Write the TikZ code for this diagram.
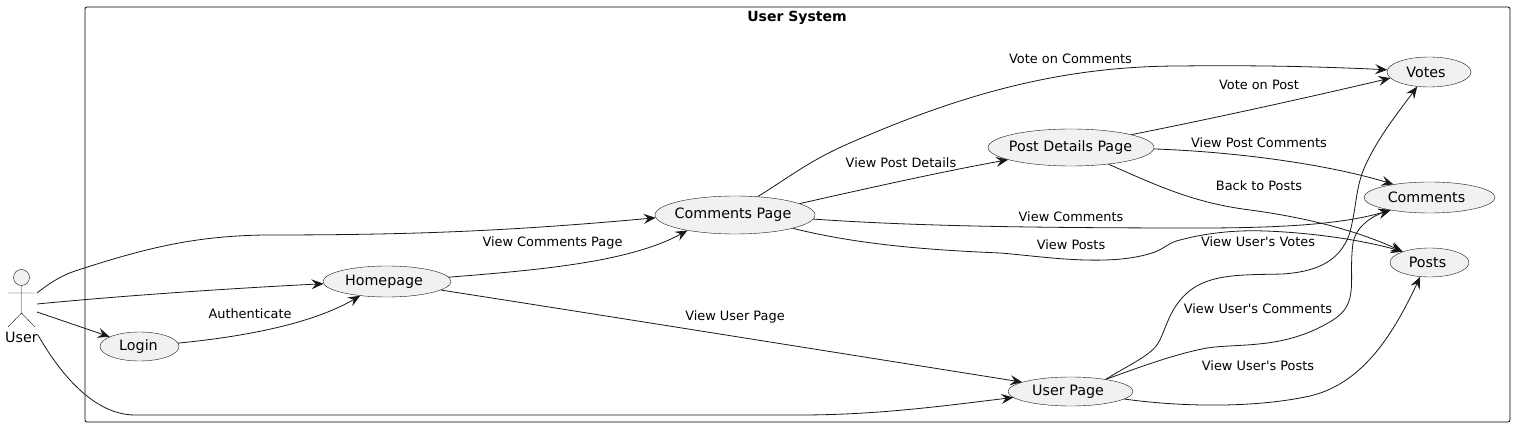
\documentclass[tikz,border=0pt]{standalone}
\usepackage{fontspec}
\setmainfont{DejaVu Sans}
\usetikzlibrary{shapes.geometric,arrows.meta}
\definecolor{ink}{HTML}{181818}
\definecolor{uc}{HTML}{F1F1F1}
\newcommand{\uclabel}[2]{\makebox[0pt]{#2\kern#1pt}}
\tikzset{
  usecase/.style={ellipse,draw=ink,line width=0.4pt,fill=uc,inner sep=0pt,font=\fontsize{14.3}{16}\selectfont,text=black},
  link/.style={draw=ink,line width=0.8pt,-{Stealth[length=12pt,width=10pt,inset=4.5pt]}},
  lbl/.style={font=\fontsize{12.9}{15}\selectfont,text=black,inner sep=0pt},
  stick/.style={draw=ink,line width=0.4pt}
}
\begin{document}
\begin{tikzpicture}[x=1pt,y=-1pt]
\useasboundingbox (0,0) rectangle (1515,427);
\fill[white] (0,0) rectangle (1515,427);
\node[rectangle,draw=black,line width=0.8pt,rounded corners=2pt,minimum width=1425pt,minimum height=415pt,inner sep=0pt] (frame) at (797.5,214.5) {};
\node[lbl,font=\bfseries\fontsize{14}{16}\selectfont] (title) at (797,17.5) {User System};
% actor
\node[circle,draw=ink,line width=0.4pt,fill=uc,minimum size=16pt,inner sep=0pt] (head) at (21.5,277.5) {};
\coordinate (hip) at (21.5,313);
\coordinate (armL) at (8,293);
\coordinate (armR) at (35,293);
\coordinate (legL) at (8,327);
\coordinate (legR) at (35,327);
\draw[stick] (head.south) -- (hip) (armL) -- (armR) (legL) -- (hip) -- (legR);
\node[font=\fontsize{14.3}{16}\selectfont,inner sep=0pt] (user) at (21.5,337) {User};
\coordinate (u1) at (37,293);
\coordinate (u2) at (37,304);
\coordinate (u3) at (37,312);
\coordinate (u4) at (38,335);
% use cases
\node[usecase,minimum width=79pt,minimum height=29pt] (login) at (139.5,346.5) {\uclabel{2}{Login}};
\node[usecase,minimum width=128pt,minimum height=31pt] (home) at (387,281.5) {\uclabel{6}{Homepage}};
\node[usecase,minimum width=160pt,minimum height=38pt] (cp) at (735,215) {\uclabel{4}{Comments Page}};
\node[usecase,minimum width=166pt,minimum height=37pt] (pd) at (1071,147.5) {\uclabel{1}{Post Details Page}};
\node[usecase,minimum width=125pt,minimum height=29pt] (up) at (1070.5,391.5) {\uclabel{5}{User Page}};
\node[usecase,minimum width=84pt,minimum height=30pt] (votes) at (1429,72) {\uclabel{6}{Votes}};
\node[usecase,minimum width=131pt,minimum height=31pt] (comments) at (1429.5,197.5) {\uclabel{6}{Comments}};
\node[usecase,minimum width=79pt,minimum height=29pt] (posts) at (1429.5,262.5) {\uclabel{4}{Posts}};
% connectors
\draw[link] (u1) .. controls (47,285) and (60,276) .. (75,271) .. controls (140,250) and (190,236) .. (265,235) .. controls (400,235) and (500,232) .. (cp.182);
\draw[link] (u2) .. controls (120,296) and (220,289) .. (home.182);
\draw[link] (u3) -- (login.162);
\draw[link] (u4) .. controls (55,365) and (90,415) .. (135,415) -- (800,415) .. controls (880,415) and (950,405) .. (up.186);
\draw[link] (login.5) .. controls (240,337) and (310,325) .. (home.208);
\draw[link] (home.4) .. controls (540,270) and (630,262) .. (cp.198);
\draw[link] (home.-9) .. controls (620,318) and (820,350) .. (up.169);
\draw[link] (cp.10) .. controls (860,190) and (940,172) .. (pd.191);
\draw[link] (cp.39) .. controls (785,180) and (810,160) .. (850,143) .. controls (960,95) and (1060,66) .. (1180,66) .. controls (1260,65) and (1330,67) .. (votes.177);
\draw[link] (pd.12) .. controls (1220,117) and (1310,97) .. (votes.189);
\draw[link] (pd.-1) .. controls (1240,152) and (1330,165) .. (comments.160);
\draw[link] (pd.-24) .. controls (1160,187) and (1195,203) .. (1250,210) .. controls (1310,218) and (1360,232) .. (posts.158);
\draw[link] (cp.-3) .. controls (900,225) and (1000,228) .. (1200,228) .. controls (1300,228) and (1350,222) .. (comments.198);
\draw[link] (cp.-13) .. controls (860,245) and (930,250) .. (1000,253) .. controls (1040,256) and (1110,268) .. (1155,252) .. controls (1165,248) and (1170,242) .. (1180,240) .. controls (1210,232) and (1240,230) .. (1265,231) .. controls (1320,233) and (1370,242) .. (posts.158);
\draw[link] (up.19) .. controls (1125,367) and (1148,357) .. (1157,345) .. controls (1166,331) and (1168,310) .. (1187,293) .. controls (1209,273) and (1245,275) .. (1283,274) .. controls (1310,272) and (1340,265) .. (1350,232) .. controls (1358,200) and (1355,185) .. (1368,160) .. controls (1380,135) and (1400,110) .. (votes.231);
\draw[link] (up.19) .. controls (1140,367) and (1175,354) .. (1207,348) .. controls (1240,343) and (1285,350) .. (1333,320) .. controls (1360,303) and (1348,280) .. (1353,243) .. controls (1356,225) and (1375,215) .. (comments.198);
\draw[link] (up.-8) .. controls (1190,408) and (1260,407) .. (1310,396) .. controls (1365,383) and (1395,330) .. (posts.237);
% labels
\node[lbl] (l1) at (250,314) {Authenticate};
\node[lbl] (l2) at (552.5,242.5) {View Comments Page};
\node[lbl] (l3) at (735,317) {View User Page};
\node[lbl] (l4) at (901,163) {View Post Details};
\node[lbl] (l5) at (1070.5,58.5) {Vote on Comments};
\node[lbl] (l6) at (1259,84.5) {Vote on Post};
\node[lbl] (l7) at (1259,142.5) {View Post Comments};
\node[lbl] (l8) at (1259,185.5) {Back to Posts};
\node[lbl] (l9) at (1071,216.5) {View Comments};
\node[lbl] (l10) at (1071,244.5) {View Posts};
\node[lbl] (l11) at (1258,242) {View User\textquotesingle s Votes};
\node[lbl] (l12) at (1258,309) {View User\textquotesingle s Comments};
\node[lbl] (l13) at (1258,366) {View User\textquotesingle s Posts};
\end{tikzpicture}
\end{document}
